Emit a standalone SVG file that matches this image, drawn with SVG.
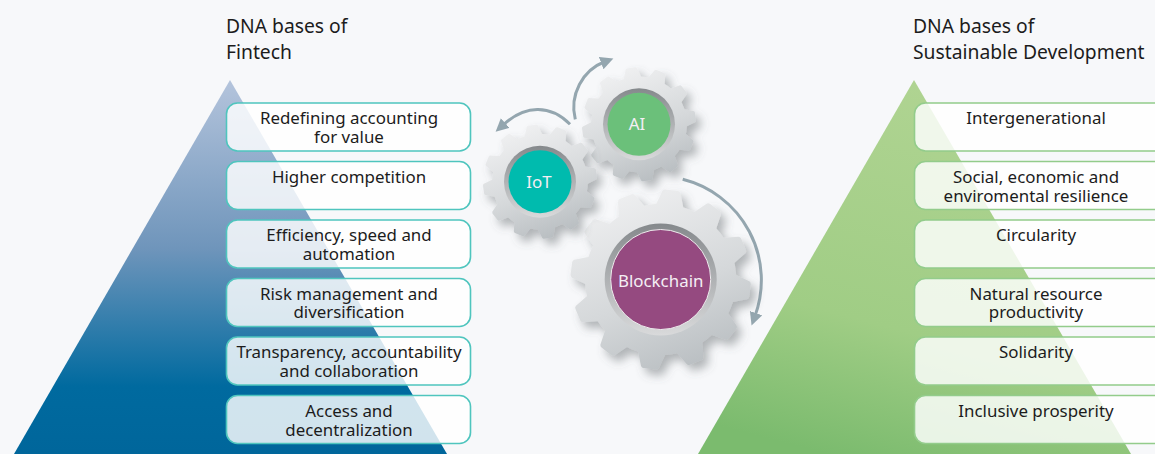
<svg xmlns="http://www.w3.org/2000/svg" xmlns:xlink="http://www.w3.org/1999/xlink" width="1155" height="454" viewBox="0 0 1155 454">
<style>
text{font-family:"Noto Sans","Open Sans","Liberation Sans",sans-serif;text-anchor:middle;fill:#1c1c1c;font-size:16.9px}
.h{text-anchor:start;font-size:19.3px}
.g{fill:#fff}
.box{fill:#fff;fill-opacity:.82;stroke-width:1.6}
.t{stroke:#4fc5be}
.n{stroke:#93cc8b}
.c{fill:none;stroke:#94a6af;stroke-width:3}
.lab{fill:#f4eef4}
</style>
<defs>
<linearGradient id="lt" x1="0" y1="0" x2="0" y2="1"><stop offset="0" stop-color="#b4c4dc"/><stop offset=".45" stop-color="#6f95bb"/><stop offset=".82" stop-color="#006a9f"/><stop offset="1" stop-color="#00669b"/></linearGradient>
<linearGradient id="rt" x1=".6" y1="0" x2=".3" y2="1"><stop offset="0" stop-color="#b0d492"/><stop offset=".65" stop-color="#a0cd85"/><stop offset="1" stop-color="#7bbb6e"/></linearGradient>
<linearGradient id="gg" x1=".3" y1="0" x2=".7" y2="1"><stop offset="0" stop-color="#f6f6f7"/><stop offset=".55" stop-color="#d5d8da"/><stop offset="1" stop-color="#aeb4b8"/></linearGradient>
<linearGradient id="rg" x1="0" y1="0" x2="0" y2="1"><stop offset="0" stop-color="#85898c"/><stop offset="1" stop-color="#d9dadb"/></linearGradient>
<filter id="sh" x="-30%" y="-30%" width="170%" height="170%"><feDropShadow dx="5" dy="6" stdDeviation="5" flood-color="#5a6066" flood-opacity=".45"/></filter>
<path id="tooth" d="M-16-80L-10-98Q-9-100-7-100L7-100Q9-100 10-98L16-80Z" class="g"/>
<g id="shape">
<circle r="84" class="g"/>
<use xlink:href="#tooth"/><use xlink:href="#tooth" transform="rotate(30)"/><use xlink:href="#tooth" transform="rotate(60)"/><use xlink:href="#tooth" transform="rotate(90)"/><use xlink:href="#tooth" transform="rotate(120)"/><use xlink:href="#tooth" transform="rotate(150)"/><use xlink:href="#tooth" transform="rotate(180)"/><use xlink:href="#tooth" transform="rotate(210)"/><use xlink:href="#tooth" transform="rotate(240)"/><use xlink:href="#tooth" transform="rotate(270)"/><use xlink:href="#tooth" transform="rotate(300)"/><use xlink:href="#tooth" transform="rotate(330)"/>
</g>
<mask id="m1" maskUnits="userSpaceOnUse" x="540" y="160" width="240" height="240"><use xlink:href="#shape" transform="translate(660.7 279.5) rotate(7) scale(.9)"/></mask>
<mask id="m2" maskUnits="userSpaceOnUse" x="570" y="55" width="140" height="140"><use xlink:href="#shape" transform="translate(639 124.3) rotate(-8) scale(.57)"/></mask>
<mask id="m3" maskUnits="userSpaceOnUse" x="470" y="112" width="140" height="140"><use xlink:href="#shape" transform="translate(540 181.7) rotate(-8) scale(.57)"/></mask>
<marker id="ar" markerUnits="userSpaceOnUse" markerWidth="14" markerHeight="14" refX="3" refY="6.500" orient="auto"><path d="M0 0L13 6.500L0 13Z" fill="#94a6af"/></marker>
</defs>
<rect width="1155" height="454" fill="#f7f8fa"/>
<path id="tri-left" d="M230 80L447 454H14Z" fill="url(#lt)"/>
<path id="tri-right" d="M914 80L1131 454H698Z" fill="url(#rt)"/>
<g id="connectors">
<path class="c" d="M682.7 179.3A104 104 0 0 1 755 316" marker-end="url(#ar)"/>
<path class="c" d="M575.3 119.3C569 95 583 70 604 62" marker-end="url(#ar)"/>
<path class="c" d="M570 124.3C550 104 525 105 503 125" marker-end="url(#ar)"/>
</g>
<g id="gear-blockchain">
<g filter="url(#sh)"><rect x="540" y="160" width="240" height="240" fill="url(#gg)" mask="url(#m1)"/></g>
<circle cx="660.7" cy="279.5" r="56" fill="url(#rg)"/>
<circle cx="660.7" cy="279.5" r="50" fill="#954a80" stroke="#eee" stroke-width="1"/>
<text class="lab" x="660.700" y="287">Blockchain</text>
</g>
<g id="gear-ai">
<g filter="url(#sh)"><rect x="570" y="55" width="140" height="140" fill="url(#gg)" mask="url(#m2)"/></g>
<circle cx="639" cy="124.3" r="36" fill="url(#rg)"/>
<circle cx="639" cy="124.3" r="31.5" fill="#6bc07a"/>
<text class="lab" x="637" y="130">AI</text>
</g>
<g id="gear-iot">
<g filter="url(#sh)"><rect x="470" y="112" width="140" height="140" fill="url(#gg)" mask="url(#m3)"/></g>
<circle cx="540" cy="181.7" r="36" fill="url(#rg)"/>
<circle cx="540" cy="181.7" r="31.5" fill="#00bbae"/>
<text class="lab" x="539" y="188">IoT</text>
</g>
<g id="head-left"><text class="h" x="226" y="33">DNA bases of<tspan x="226" dy="26">Fintech</tspan></text></g>
<g id="head-right"><text class="h" x="913" y="33">DNA bases of<tspan x="913" dy="26">Sustainable Development</tspan></text></g>
<g id="l1"><rect class="box t" x="226.500" y="103" width="244" height="48" rx="11"/><text x="349" y="124">Redefining accounting<tspan x="349" dy="18.500">for value</tspan></text></g>
<g id="l2"><rect class="box t" x="226.500" y="161.500" width="244" height="48" rx="11"/><text x="349" y="183">Higher competition</text></g>
<g id="l3"><rect class="box t" x="226.500" y="220" width="244" height="48" rx="11"/><text x="349" y="241">Efficiency, speed and<tspan x="349" dy="18.500">automation</tspan></text></g>
<g id="l4"><rect class="box t" x="226.500" y="278.500" width="244" height="48" rx="11"/><text x="349" y="299.500">Risk management and<tspan x="349" dy="18.500">diversification</tspan></text></g>
<g id="l5"><rect class="box t" x="226.500" y="337" width="244" height="48" rx="11"/><text x="349" y="358">Transparency, accountability<tspan x="349" dy="18.500">and collaboration</tspan></text></g>
<g id="l6"><rect class="box t" x="226.500" y="395.500" width="244" height="48" rx="11"/><text x="349" y="417">Access and<tspan x="349" dy="18.500">decentralization</tspan></text></g>
<g id="r1"><rect class="box n" x="914.500" y="103" width="260" height="48" rx="11"/><text x="1036" y="124">Intergenerational</text></g>
<g id="r2"><rect class="box n" x="914.500" y="161.500" width="260" height="48" rx="11"/><text x="1036" y="183">Social, economic and<tspan x="1036" dy="18.500">enviromental resilience</tspan></text></g>
<g id="r3"><rect class="box n" x="914.500" y="220" width="260" height="48" rx="11"/><text x="1036" y="241">Circularity</text></g>
<g id="r4"><rect class="box n" x="914.500" y="278.500" width="260" height="48" rx="11"/><text x="1036" y="299.500">Natural resource<tspan x="1036" dy="18.500">productivity</tspan></text></g>
<g id="r5"><rect class="box n" x="914.500" y="337" width="260" height="48" rx="11"/><text x="1036" y="358">Solidarity</text></g>
<g id="r6"><rect class="box n" x="914.500" y="395.500" width="260" height="48" rx="11"/><text x="1036" y="417">Inclusive prosperity</text></g>
</svg>
